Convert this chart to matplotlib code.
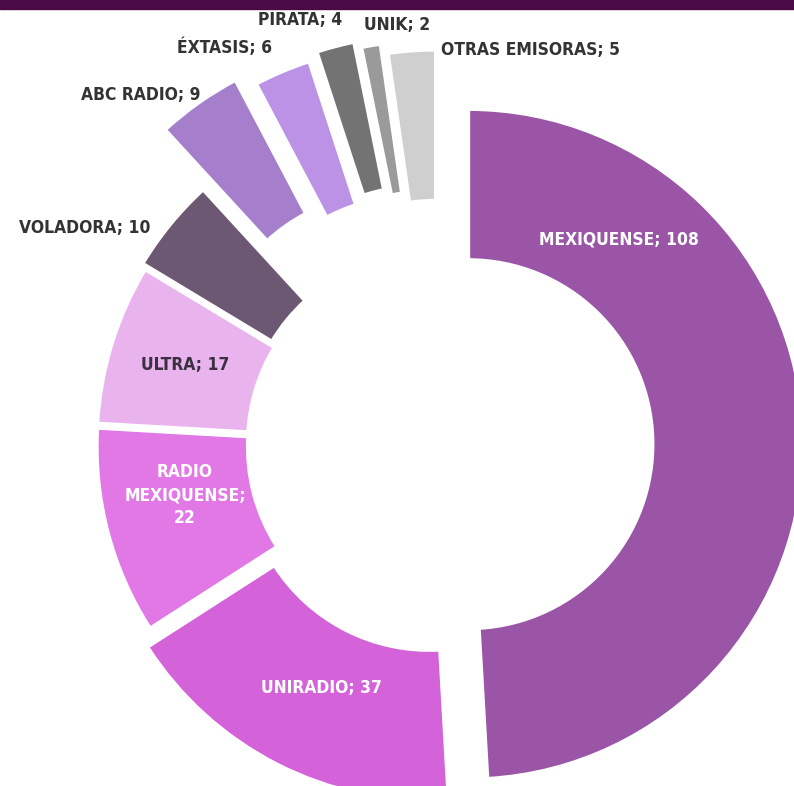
import numpy as np
import matplotlib.pyplot as plt
from matplotlib.patches import Rectangle

emisoras = ["MEXIQUENSE", "UNIRADIO", "RADIO\nMEXIQUENSE;", "ULTRA", "VOLADORA",
            "ABC RADIO", "ÉXTASIS", "PIRATA", "UNIK", "OTRAS EMISORAS"]
valores = [108, 37, 22, 17, 10, 9, 6, 4, 2, 5]
colores = ["#9a55a6", "#d462d9", "#e277e6", "#e9b3ee", "#6c5872",
           "#a67fcc", "#bb92e6", "#737373", "#9a9a9a", "#cfcfcf"]
separacion = [0.085, 0.07, 0.025, 0.025, 0.04, 0.25, 0.21, 0.23, 0.21, 0.18]

# posiciones de las etiquetas (fraccion de los ejes)
etq_pos = [(0.78, 0.695), (0.405, 0.125), (0.233, 0.37), (0.233, 0.535),
           (0.107, 0.71), (0.177, 0.879), (0.283, 0.939), (0.378, 0.975),
           (0.500, 0.968), (0.668, 0.936)]
etq_color = ["white", "white", "white", "#3a3040", "#333333",
             "#333333", "#333333", "#333333", "#333333", "#333333"]

fig = plt.figure(figsize=(7.94, 7.86), dpi=100)
ax = fig.add_axes([0, 0, 1, 1])

wedges, _ = ax.pie(valores, startangle=90, counterclock=False, colors=colores,
                   explode=separacion, radius=1.0,
                   wedgeprops=dict(width=0.45, edgecolor="white", linewidth=2.5))

for nom, val, pos, c in zip(emisoras, valores, etq_pos, etq_color):
    if "\n" in nom:
        txt = f"{nom}\n{val}"
    else:
        txt = f"{nom}; {val}"
    ax.text(pos[0], pos[1], txt, transform=ax.transAxes, ha="center", va="center",
            color=c, fontsize=12.5, fontweight="bold", fontstretch="condensed",
            family="DejaVu Sans", linespacing=1.35)

ax.set_aspect("equal")
cx, cy, esc = 440, 445, 335
ax.set_xlim(-cx / esc, (794 - cx) / esc)
ax.set_ylim(-(786 - cy) / esc, cy / esc)
ax.axis("off")

fig.patches.append(Rectangle((0, 1 - 9 / 786), 1, 9 / 786, transform=fig.transFigure,
                             color="#4a0a47", zorder=5))

fig.savefig("out.png", dpi=100, facecolor="white")
